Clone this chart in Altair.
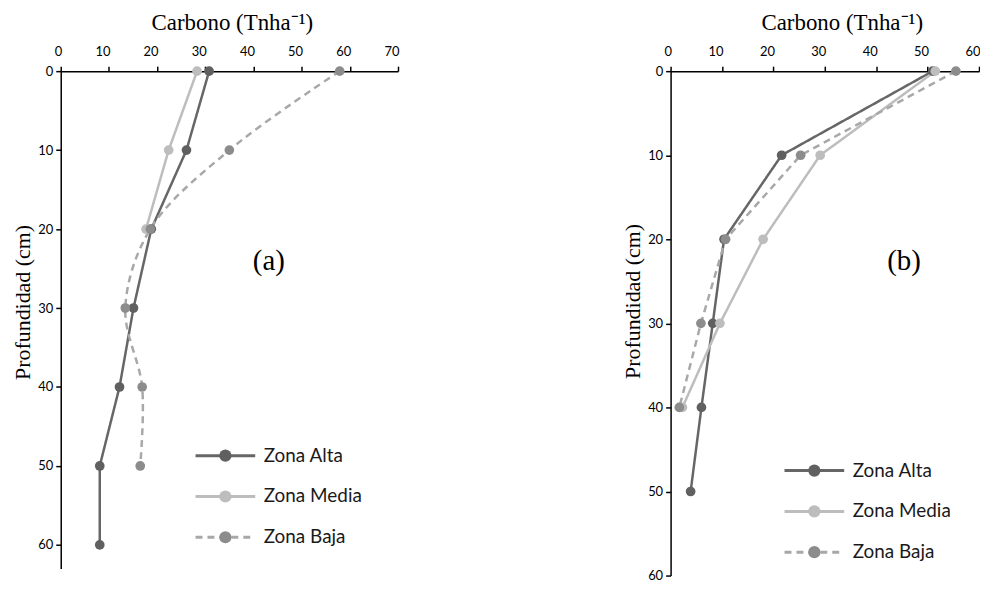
import altair as alt
import pandas as pd

ZONAS = ["Zona Alta", "Zona Media", "Zona Baja"]
LINE_COLORS = ["#666666", "#bdbdbd", "#a8a8a8"]
POINT_COLORS = ["#606060", "#bdbdbd", "#8c8c8c"]
DASHES = [[1, 0], [1, 0], [7, 5]]

DEPTH = [0, 10, 20, 30, 40, 50, 60]

# Panel (a)
A_ALTA = [30.8, 26.1, 18.8, 15.1, 12.2, 8.1, 8.1]
A_MEDIA = [28.3, 22.4, 17.7]
A_BAJA = [57.9, 35.0, 18.6, 13.4, 16.9, 16.5]

# Panel (b)
B_ALTA = [51.0, 21.6, 10.4, 8.2, 6.0, 3.9]
B_MEDIA = [51.5, 29.1, 18.0, 9.6, 2.3]
B_BAJA = [55.5, 25.3, 10.7, 5.9, 1.7]

X_TITLE = "Carbono (Tnha⁻¹)"
Y_TITLE = "Profundidad (cm)"


def make_df(alta, media, baja):
    rows = []
    for zona, vals in zip(ZONAS, [alta, media, baja]):
        for d, v in zip(DEPTH, vals):
            rows.append({"zona": zona, "zona_p": zona, "depth": d, "carbono": v})
    return pd.DataFrame(rows)


def panel(df, xmax, ymax, width, height, label, label_x, label_y, leg_x, leg_y, smooth_baja, title_y):
    x_scale = alt.Scale(domain=[0, xmax], nice=False, zero=True)
    y_scale = alt.Scale(domain=[0, ymax], nice=False, reverse=True)
    x_axis = alt.Axis(
        orient="top", values=list(range(0, xmax + 1, 10)), title=X_TITLE,
        grid=False, domainColor="black", domainWidth=1.5, tickColor="black",
        tickWidth=1.5, tickSize=5, labelFont="Lato", labelFontSize=13,
        labelColor="black", labelPadding=8, labelAlign="right", labelOffset=1,
        titleFont="Liberation Serif",
        titleFontSize=23, titleFontWeight="normal", titleColor="black",
        titlePadding=11, titleX=172, titleAlign="center",
    )
    y_axis = alt.Axis(
        orient="left", values=list(range(0, 61, 10)), title=Y_TITLE,
        grid=False, domainColor="black", domainWidth=1.5, tickColor="black",
        tickWidth=1.5, tickSize=5, labelFont="Lato", labelFontSize=13,
        labelColor="black", labelPadding=3, titleFont="Liberation Serif",
        titleFontSize=22, titleFontWeight="normal", titleColor="black",
        titlePadding=3, titleY=title_y,
    )
    line_legend = alt.Legend(
        title=None, orient="none", legendX=leg_x, legendY=leg_y,
        symbolType="M-4.9,0H4.9", symbolSize=150, symbolStrokeWidth=3,
        labelFont="Lato", labelFontSize=19, labelColor="#1a1a1a",
        labelFontWeight="normal", labelOffset=29, rowPadding=21, padding=0,
    )
    point_legend = alt.Legend(
        title=None, orient="none", legendX=leg_x, legendY=leg_y,
        symbolType="circle", symbolSize=150, symbolStrokeWidth=3,
        symbolOpacity=1, labelFont="Lato", labelFontSize=19,
        labelExpr="''", labelOpacity=0, labelOffset=29,
        rowPadding=21, padding=0,
    )
    base = alt.Chart(df)
    enc = dict(
        x=alt.X("carbono:Q", scale=x_scale, axis=x_axis),
        y=alt.Y("depth:Q", scale=y_scale, axis=y_axis),
        order=alt.Order("depth:Q"),
    )
    color = alt.Color("zona:N", scale=alt.Scale(domain=ZONAS, range=LINE_COLORS), legend=line_legend)
    dash = alt.StrokeDash("zona:N", scale=alt.Scale(domain=ZONAS, range=DASHES), legend=line_legend)
    if smooth_baja:
        lines1 = base.transform_filter(alt.datum.zona != "Zona Baja").mark_line(strokeWidth=2.5).encode(
            color=color, strokeDash=dash, **enc)
        lines2 = base.transform_filter(alt.datum.zona == "Zona Baja").mark_line(
            strokeWidth=2.5, interpolate="catmull-rom").encode(color=color, strokeDash=dash, **enc)
        lines = [lines1, lines2]
    else:
        lines = [base.mark_line(strokeWidth=2.5).encode(color=color, strokeDash=dash, **enc)]
    points = base.mark_point(filled=True, size=95, opacity=1).encode(
        fill=alt.Fill("zona_p:N", sort=ZONAS, scale=alt.Scale(range=POINT_COLORS), legend=point_legend),
        **enc,
    )
    text = alt.Chart(pd.DataFrame({"t": [label]})).mark_text(
        font="Liberation Serif", fontSize=29, align="center", baseline="middle", color="black"
    ).encode(x=alt.datum(label_x), y=alt.datum(label_y), text="t:N")
    return alt.layer(*lines, points, text).properties(width=width, height=height)


pa = panel(make_df(A_ALTA, A_MEDIA, A_BAJA), 70, 63, 339, 500, "(a)", 43.2, 24.0, 156, 377, True, 232)
pb = panel(make_df(B_ALTA, B_MEDIA, B_BAJA), 60, 60, 310, 507, "(b)", 45.4, 22.6, 135, 392, False, 231)

chart = alt.hconcat(pa, pb, spacing=223).resolve_scale(
    color="independent", fill="independent", strokeDash="independent", x="independent", y="independent"
).resolve_legend(color="independent", fill="independent", strokeDash="independent").configure_view(
    stroke=None
).properties(padding={"left": 3, "top": 2, "right": 0, "bottom": 0}, background="white")

chart.save("out.html", embed_options={"renderer": "svg", "actions": False})
